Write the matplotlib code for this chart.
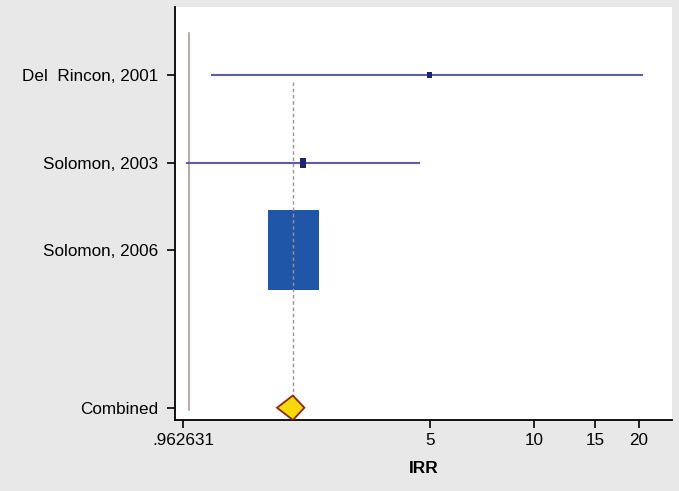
import matplotlib.pyplot as plt
import numpy as np
from matplotlib.patches import Rectangle, Polygon

# study data
studies = ['Del  Rincon, 2001', 'Solomon, 2003', 'Solomon, 2006']
irr = [4.97, 2.14, 2.01]
ci_low = [1.17, 0.99, 1.80]
ci_high = [20.5, 4.63, 2.25]
weights = [0.6, 1.7, 97.7]

combined_label = 'Combined'
combined_irr = 2.0
combined_low = 1.80
combined_high = 2.16

xtick_values = [0.962631, 5, 10, 15, 20]
xtick_labels = ['.962631', '5', '10', '15', '20']

plt.rcParams['font.family'] = ['Liberation Sans', 'DejaVu Sans']

fig = plt.figure(figsize=(6.79, 4.91), dpi=100)
fig.patch.set_facecolor('#e8e8e8')
ax = fig.add_axes([0.2577, 0.1446, 0.732, 0.841])
ax.set_facecolor('white')
ax.set_xscale('log')

rows = np.arange(1, len(studies) + 1)
combined_row = 4.8

# null line and combined estimate line
ax.plot([1, 1], [0.52, 4.83], color='#b09a9a', lw=1.2, zorder=1)
ax.plot([combined_irr, combined_irr], [1.08, combined_row - 0.14],
        color='#a09090', lw=1.0, ls=(0, (2.5, 2)), zorder=3)

# confidence intervals
for y, lo, hi in zip(rows, ci_low, ci_high):
    ax.plot([lo, hi], [y, y], color='#5c5ca8', lw=1.5, zorder=2)

# boxes sized by weight (area proportional to weight)
for y, est, w in zip(rows, irr, weights):
    s = np.sqrt(w)
    hw = 0.0173 * s          # half width in log units
    hh = 0.0463 * s          # half height in row units
    color = '#1f56a8' if w > 50 else '#1c2470'
    ax.add_patch(Rectangle((est * np.exp(-hw), y - hh),
                           est * np.exp(hw) - est * np.exp(-hw), 2 * hh,
                           facecolor=color, edgecolor='none', zorder=2))

# combined diamond
diamond = Polygon([(combined_low, combined_row), (combined_irr, combined_row - 0.14),
                   (combined_high, combined_row), (combined_irr, combined_row + 0.14)],
                  closed=True, facecolor='#f7d90a', edgecolor='#8a2a10', lw=1.3, zorder=4)
ax.add_patch(diamond)

ax.set_xlim(0.912, 25)
ax.set_ylim(4.94, 0.22)

ax.set_yticks(list(rows) + [combined_row])
ax.set_yticklabels(studies + [combined_label], fontsize=12.3)
ax.set_xticks(xtick_values)
ax.set_xticklabels(xtick_labels, fontsize=12.3)
ax.xaxis.set_minor_locator(plt.NullLocator())
ax.tick_params(axis='both', direction='out', length=6, width=1.2, color='black')
ax.tick_params(axis='y', pad=6)
ax.tick_params(axis='x', pad=3)

for side in ['top', 'right']:
    ax.spines[side].set_visible(False)
for side in ['left', 'bottom']:
    ax.spines[side].set_linewidth(1.3)

ax.set_xlabel('IRR', fontsize=12.5, fontweight='bold', labelpad=10)

plt.savefig('out.png', dpi=100, facecolor=fig.get_facecolor())
